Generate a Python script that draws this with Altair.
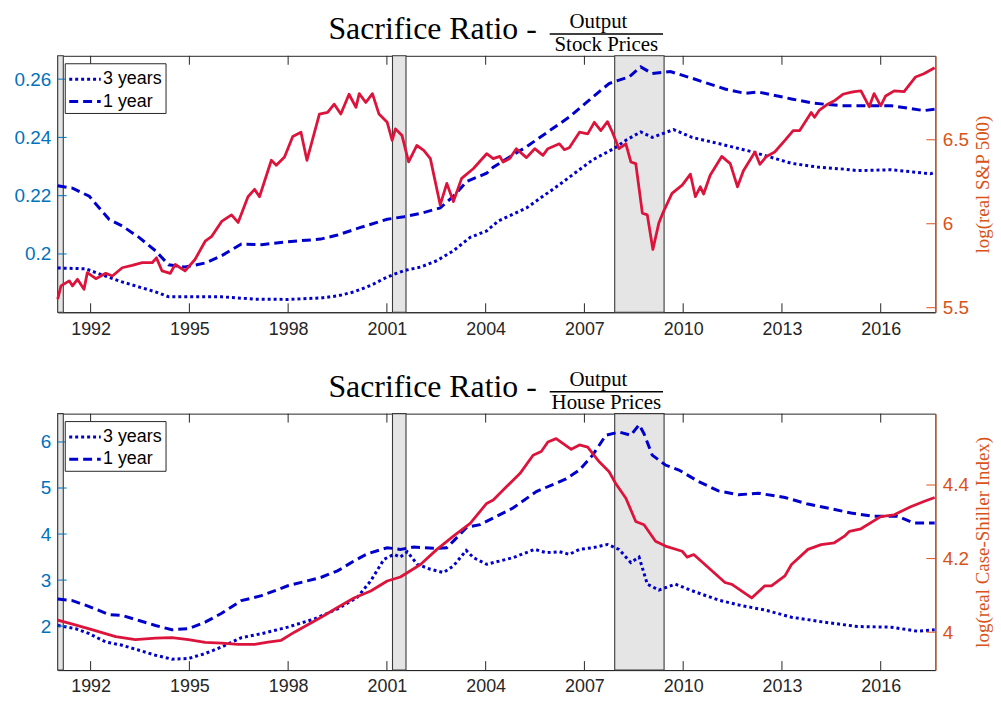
import altair as alt
import pandas as pd

# ---------------- data ----------------
rec_start = [1991.0, 2001.17, 2007.92]
rec_end = [1991.17, 2001.58, 2009.42]

# --- Panel 1: Output / Stock Prices ---
sp3_year = [1991.00, 1991.85, 1992.26, 1992.96, 1993.97, 1994.37, 1994.97, 1995.98, 1996.48, 1996.98,
            1997.99, 1998.99, 1999.50, 2000.00, 2000.51, 2001.01, 2001.52, 2002.02, 2002.52, 2003.02,
            2003.53, 2004.03, 2004.38, 2005.24, 2006.24, 2007.25, 2007.90, 2008.26, 2008.71, 2009.06,
            2009.71, 2010.27, 2011.07, 2012.08, 2012.78, 2013.29, 2014.09, 2014.90, 2015.30, 2016.31,
            2017.11, 2017.51, 2017.64]
sp3_val = [0.1952, 0.1949, 0.1932, 0.1904, 0.1870, 0.1853, 0.1853, 0.1853, 0.1849, 0.1845,
           0.1844, 0.1849, 0.1856, 0.1870, 0.1892, 0.1921, 0.1943, 0.1955, 0.1977, 0.2011,
           0.2057, 0.2079, 0.2113, 0.2158, 0.2238, 0.2323, 0.2362, 0.2390, 0.2419, 0.2400,
           0.2427, 0.2400, 0.2379, 0.2351, 0.2328, 0.2311, 0.2298, 0.2291, 0.2286, 0.2289,
           0.2280, 0.2275, 0.2280]

sp1_year = [1991.00, 1991.45, 1991.96, 1992.56, 1992.96, 1993.47, 1993.97, 1994.37, 1994.87, 1995.48,
            1995.98, 1996.58, 1997.19, 1997.99, 1998.99, 1999.50, 2000.20, 2001.01, 2001.52, 2002.02,
            2002.62, 2003.02, 2003.43, 2004.03, 2004.23, 2005.24, 2006.54, 2007.25, 2007.75, 2008.36,
            2008.71, 2009.06, 2009.61, 2010.27, 2011.27, 2011.88, 2012.28, 2013.29, 2013.99, 2014.80,
            2016.31, 2017.31, 2017.64]
sp1_val = [0.2234, 0.2226, 0.2198, 0.2119, 0.2096, 0.2057, 0.2011, 0.1963, 0.1955, 0.1969,
           0.1994, 0.2034, 0.2032, 0.2042, 0.2051, 0.2065, 0.2091, 0.2119, 0.2128, 0.2139,
           0.2158, 0.2198, 0.2249, 0.2277, 0.2298, 0.2368, 0.2470, 0.2538, 0.2585, 0.2608,
           0.2642, 0.2619, 0.2626, 0.2603, 0.2566, 0.2551, 0.2556, 0.2532, 0.2517, 0.2509,
           0.2509, 0.2492, 0.2497]

sp_year = [1991.00, 1991.10, 1991.35, 1991.45, 1991.60, 1991.80, 1991.90, 1992.16, 1992.46, 1992.66,
           1992.96, 1993.26, 1993.57, 1993.87, 1994.00, 1994.17, 1994.42, 1994.57, 1994.72, 1994.87,
           1995.17, 1995.48, 1995.68, 1995.98, 1996.28, 1996.48, 1996.78, 1996.98, 1997.13, 1997.49,
           1997.64, 1997.89, 1998.14, 1998.39, 1998.57, 1998.95, 1999.20, 1999.40, 1999.60, 1999.85,
           2000.06, 2000.16, 2000.36, 2000.56, 2000.76, 2001.01, 2001.16, 2001.26, 2001.46, 2001.66,
           2001.91, 2002.12, 2002.32, 2002.62, 2002.82, 2003.02, 2003.27, 2003.63, 2004.03, 2004.23,
           2004.43, 2004.53, 2004.73, 2004.93, 2005.24, 2005.49, 2005.74, 2005.89, 2006.24, 2006.39,
           2006.54, 2006.85, 2007.10, 2007.30, 2007.50, 2007.70, 2007.85, 2008.05, 2008.26, 2008.41,
           2008.56, 2008.76, 2008.91, 2009.08, 2009.26, 2009.38, 2009.66, 2009.97, 2010.22, 2010.37,
           2010.52, 2010.62, 2010.82, 2011.17, 2011.43, 2011.65, 2011.83, 2012.18, 2012.33, 2012.53,
           2012.78, 2013.09, 2013.34, 2013.54, 2013.89, 2013.99, 2014.14, 2014.39, 2014.59, 2014.85,
           2015.05, 2015.20, 2015.40, 2015.65, 2015.80, 2016.00, 2016.15, 2016.41, 2016.71, 2017.06,
           2017.31, 2017.64]
sp_val = [5.551, 5.630, 5.660, 5.630, 5.669, 5.610, 5.709, 5.673, 5.705, 5.689,
          5.738, 5.752, 5.768, 5.768, 5.797, 5.719, 5.705, 5.758, 5.738, 5.719,
          5.787, 5.896, 5.925, 6.014, 6.053, 6.008, 6.161, 6.205, 6.161, 6.378,
          6.348, 6.397, 6.519, 6.545, 6.378, 6.653, 6.663, 6.712, 6.653, 6.771,
          6.693, 6.775, 6.722, 6.775, 6.653, 6.604, 6.496, 6.565, 6.525, 6.368,
          6.466, 6.437, 6.388, 6.112, 6.240, 6.132, 6.270, 6.329, 6.417, 6.388,
          6.401, 6.368, 6.388, 6.447, 6.394, 6.447, 6.407, 6.447, 6.476, 6.441,
          6.453, 6.545, 6.535, 6.604, 6.555, 6.608, 6.545, 6.447, 6.476, 6.368,
          6.358, 6.063, 6.053, 5.847, 6.004, 6.063, 6.181, 6.230, 6.295, 6.161,
          6.220, 6.177, 6.289, 6.401, 6.358, 6.220, 6.315, 6.427, 6.354, 6.401,
          6.427, 6.496, 6.555, 6.555, 6.663, 6.634, 6.677, 6.712, 6.732, 6.771,
          6.781, 6.787, 6.791, 6.697, 6.775, 6.702, 6.761, 6.791, 6.787, 6.874,
          6.893, 6.929]

# --- Panel 2: Output / House Prices ---
hp3_year = [1991.00, 1991.55, 1991.96, 1992.46, 1992.96, 1993.47, 1993.97, 1994.47, 1994.97, 1995.48,
            1995.98, 1996.58, 1997.19, 1997.99, 1998.80, 1999.50, 2000.10, 2000.51, 2000.91, 2001.21,
            2001.41, 2001.62, 2001.92, 2002.32, 2002.72, 2003.02, 2003.41, 2003.63, 2004.03, 2004.83,
            2005.49, 2005.84, 2006.24, 2006.54, 2006.85, 2007.25, 2007.70, 2008.05, 2008.41, 2008.66,
            2008.91, 2009.26, 2009.76, 2010.27, 2011.07, 2011.78, 2012.48, 2013.29, 2014.29, 2015.30,
            2016.31, 2017.11, 2017.64]
hp3_val = [2.014, 1.943, 1.835, 1.655, 1.583, 1.476, 1.368, 1.282, 1.296, 1.404,
           1.547, 1.749, 1.835, 1.978, 2.158, 2.374, 2.625, 2.984, 3.451, 3.559,
           3.501, 3.616, 3.343, 3.236, 3.164, 3.307, 3.645, 3.487, 3.343, 3.487,
           3.667, 3.595, 3.616, 3.559, 3.667, 3.703, 3.774, 3.667, 3.379, 3.501,
           2.912, 2.782, 2.912, 2.768, 2.566, 2.444, 2.351, 2.193, 2.085, 1.991,
           1.977, 1.891, 1.920]

hp1_year = [1991.00, 1991.45, 1991.96, 1992.56, 1992.96, 1993.47, 1993.97, 1994.47, 1994.97, 1995.48,
            1995.98, 1996.58, 1997.19, 1997.99, 1998.99, 1999.50, 2000.00, 2000.41, 2001.01, 2001.41,
            2001.82, 2002.52, 2002.82, 2003.02, 2003.43, 2003.83, 2004.23, 2004.83, 2005.54, 2006.44,
            2006.85, 2007.25, 2007.65, 2008.05, 2008.41, 2008.66, 2008.81, 2009.06, 2009.46, 2009.87,
            2010.47, 2011.07, 2011.68, 2012.28, 2013.09, 2013.79, 2014.49, 2015.10, 2015.80, 2016.51,
            2017.01, 2017.64]
hp1_val = [2.589, 2.553, 2.424, 2.251, 2.230, 2.122, 2.014, 1.921, 1.943, 2.086,
           2.280, 2.553, 2.661, 2.876, 3.056, 3.200, 3.415, 3.573, 3.703, 3.667,
           3.717, 3.688, 3.703, 3.847, 4.148, 4.205, 4.349, 4.565, 4.924, 5.197,
           5.391, 5.714, 6.145, 6.217, 6.145, 6.375, 6.181, 5.714, 5.499, 5.391,
           5.140, 4.938, 4.852, 4.888, 4.795, 4.651, 4.550, 4.457, 4.385, 4.385,
           4.241, 4.241]

cs_year = [1991.00, 1991.45, 1991.96, 1992.76, 1993.36, 1993.97, 1994.47, 1994.97, 1995.48, 1995.98,
           1996.48, 1996.98, 1997.39, 1997.79, 1998.19, 1998.99, 1999.50, 2000.00, 2000.51, 2001.01,
           2001.41, 2002.02, 2002.52, 2003.02, 2003.53, 2004.03, 2004.23, 2004.63, 2005.04, 2005.44,
           2005.69, 2005.89, 2006.14, 2006.60, 2006.85, 2007.10, 2007.45, 2007.75, 2007.95, 2008.26,
           2008.56, 2008.81, 2009.16, 2009.46, 2009.97, 2010.12, 2010.32, 2010.77, 2011.27, 2011.48,
           2012.08, 2012.48, 2012.68, 2013.09, 2013.29, 2013.79, 2014.19, 2014.59, 2014.90, 2015.05,
           2015.40, 2016.00, 2016.41, 2016.91, 2017.31, 2017.64]
cs_val = [4.033, 4.022, 4.009, 3.988, 3.980, 3.984, 3.985, 3.980, 3.972, 3.970,
          3.967, 3.967, 3.973, 3.978, 4.000, 4.040, 4.067, 4.093, 4.112, 4.139,
          4.150, 4.184, 4.225, 4.261, 4.296, 4.350, 4.359, 4.395, 4.431, 4.481,
          4.491, 4.517, 4.526, 4.497, 4.509, 4.503, 4.463, 4.436, 4.404, 4.364,
          4.301, 4.292, 4.247, 4.234, 4.220, 4.204, 4.211, 4.175, 4.135, 4.130,
          4.093, 4.126, 4.126, 4.153, 4.184, 4.225, 4.238, 4.243, 4.261, 4.274,
          4.281, 4.314, 4.319, 4.341, 4.355, 4.366]

x_ticks = [1992, 1995, 1998, 2001, 2004, 2007, 2010, 2013, 2016]
legend_labels = ["3 years", "1 year"]

# ---------------- style ----------------
W, H = 883, 258
XDOM = [1991.0, 2017.66]
BLUE = "#0000CC"
RED = "#DC143C"
LAX = "#0072BD"
RAX = "#D95319"
DARK = "#262626"
SANS = "Liberation Sans"
SERIF = "Liberation Serif"
TICK = 9

one = pd.DataFrame({"a": [0]})


def xscale():
    return alt.Scale(domain=XDOM, nice=False, zero=False)


def xaxis():
    return alt.Axis(values=x_ticks, format="d", title=None, grid=False, ticks=False,
                    labelFont=SANS, labelFontSize=18, labelColor=DARK, labelPadding=8,
                    domainColor=DARK, domainWidth=1, labelFlush=False)


def panel(y3x, y3v, y1x, y1v, rx, rv, ldom, lticks, lfmt, rdom, rticks, rfmt, rtitle, denom):
    lsc = alt.Scale(domain=ldom, nice=False, zero=False)
    rsc = alt.Scale(domain=rdom, nice=False, zero=False)

    rec = alt.Chart(pd.DataFrame({"s": rec_start, "e": rec_end})).mark_rect(
        fill="#E5E5E5", stroke="#3a3a3a", strokeWidth=1.1
    ).encode(x=alt.X("s:Q", scale=xscale(), axis=xaxis()), x2="e:Q",
             y=alt.value(0), y2=alt.value(H))

    bdf = pd.DataFrame({
        "year": list(y3x) + list(y1x),
        "val": list(y3v) + list(y1v),
        "series": [legend_labels[0]] * len(y3x) + [legend_labels[1]] * len(y1x),
    })
    blue = alt.Chart(bdf).mark_line(color=BLUE, strokeWidth=3, strokeCap="butt").encode(
        x=alt.X("year:Q", scale=xscale(), axis=xaxis()),
        y=alt.Y("val:Q", scale=lsc,
                axis=alt.Axis(orient="left", values=lticks, format=lfmt, title=None, grid=False,
                              ticks=False, labelFont=SANS, labelFontSize=19, labelColor=LAX,
                              labelPadding=7, domainColor=LAX, domainWidth=1.2, labelFlush=False)),
        strokeDash=alt.StrokeDash("series:N",
                                  scale=alt.Scale(domain=legend_labels, range=[[3, 3], [9, 5]]),
                                  legend=None),
    )

    red = alt.Chart(pd.DataFrame({"year": rx, "val": rv})).mark_line(
        color=RED, strokeWidth=2.8, strokeJoin="round"
    ).encode(
        x=alt.X("year:Q", scale=xscale(), axis=xaxis()),
        y=alt.Y("val:Q", scale=rsc,
                axis=alt.Axis(orient="right", values=rticks, format=rfmt, title=rtitle, grid=False,
                              ticks=False, labelFont=SANS, labelFontSize=19, labelColor=RAX,
                              labelPadding=7, domainColor=RAX, domainWidth=1.2, labelFlush=False,
                              titleFont=SERIF, titleFontSize=19, titleFontWeight="normal",
                              titleColor=RAX, titleAngle=270, titleBaseline="top",
                              titlePadding=5)),
    )

    xt = pd.DataFrame({"t": x_ticks})
    xt_bot = alt.Chart(xt).mark_rule(color=DARK, strokeWidth=1).encode(
        x=alt.X("t:Q", scale=xscale(), axis=xaxis()), y=alt.value(H), y2=alt.value(H - TICK))
    xt_top = alt.Chart(xt).mark_rule(color=DARK, strokeWidth=1).encode(
        x=alt.X("t:Q", scale=xscale(), axis=xaxis()), y=alt.value(0), y2=alt.value(TICK))
    lt = alt.Chart(pd.DataFrame({"t": lticks})).mark_rule(color=LAX, strokeWidth=1).encode(
        y=alt.Y("t:Q", scale=lsc, axis=None), x=alt.value(0), x2=alt.value(TICK))
    rt = alt.Chart(pd.DataFrame({"t": rticks})).mark_rule(color=RAX, strokeWidth=1).encode(
        y=alt.Y("t:Q", scale=rsc, axis=None), x=alt.value(W - TICK), x2=alt.value(W))

    # legend box
    leg_box = alt.Chart(one).mark_rect(fill="white", stroke=DARK, strokeWidth=1).encode(
        x=alt.value(7.6), x2=alt.value(109), y=alt.value(8), y2=alt.value(58))
    leg_l3 = alt.Chart(one).mark_rule(color=BLUE, strokeWidth=3, strokeDash=[3, 3], strokeCap="butt").encode(
        x=alt.value(11.6), x2=alt.value(43.3), y=alt.value(23.6))
    leg_l1 = alt.Chart(one).mark_rule(color=BLUE, strokeWidth=3, strokeDash=[9, 5], strokeCap="butt").encode(
        x=alt.value(11.6), x2=alt.value(43.3), y=alt.value(46))
    leg_t3 = alt.Chart(one).mark_text(text=legend_labels[0], align="left", baseline="middle",
                                      font=SANS, fontSize=18, color="black").encode(
        x=alt.value(45.6), y=alt.value(23.6))
    leg_t1 = alt.Chart(one).mark_text(text=legend_labels[1], align="left", baseline="middle",
                                      font=SANS, fontSize=18, color="black").encode(
        x=alt.value(45.6), y=alt.value(46))

    # title with fraction
    t_main = alt.Chart(one).mark_text(text="Sacrifice Ratio -", align="right", baseline="alphabetic",
                                      font=SERIF, fontSize=32, color="black").encode(
        x=alt.value(482), y=alt.value(-17))
    t_num = alt.Chart(one).mark_text(text="Output", align="center", baseline="alphabetic",
                                     font=SERIF, fontSize=21, color="black").encode(
        x=alt.value(544), y=alt.value(-28))
    t_bar = alt.Chart(one).mark_rule(color="black", strokeWidth=1.4).encode(
        x=alt.value(495), x2=alt.value(609), y=alt.value(-22))
    t_den = alt.Chart(one).mark_text(text=denom, align="center", baseline="alphabetic",
                                     font=SERIF, fontSize=21, color="black").encode(
        x=alt.value(552), y=alt.value(-4.5))

    return alt.layer(rec, blue, red, xt_bot, xt_top, lt, rt,
                     leg_box, leg_l3, leg_l1, leg_t3, leg_t1,
                     t_main, t_num, t_bar, t_den).resolve_scale(y="independent").properties(
        width=W, height=H)


top = panel(sp3_year, sp3_val, sp1_year, sp1_val, sp_year, sp_val,
            [0.18, 0.268], [0.20, 0.22, 0.24, 0.26], ".2~f",
            [5.473, 7.0], [5.5, 6.0, 6.5], ".1~f",
            "log(real S&P 500)", "Stock Prices")
bottom = panel(hp3_year, hp3_val, hp1_year, hp1_val, cs_year, cs_val,
               [1.045, 6.616], [2, 3, 4, 5, 6], "d",
               [3.897, 4.594], [4.0, 4.2, 4.4], ".1~f",
               "log(real Case-Shiller Index)", "House Prices")

chart = alt.vconcat(top, bottom, spacing=29).properties(
    padding={"left": 5, "top": 0, "right": 0, "bottom": 0}
).configure(font=SANS).configure_view(stroke=DARK, strokeWidth=1)

chart.save("out.html", embed_options={"renderer": "svg", "actions": False})
